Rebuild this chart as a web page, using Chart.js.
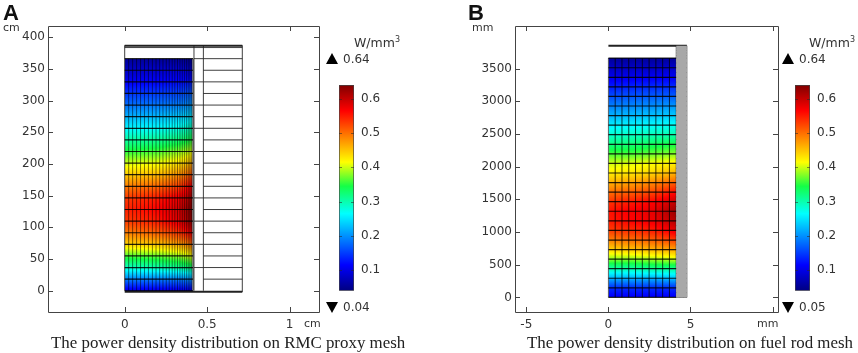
<!DOCTYPE html>
<html>
<head>
<meta charset="utf-8">
<script src="https://cdn.jsdelivr.net/npm/chart.js@4"></script>
<style>
  html, body { margin: 0; padding: 0; background: #fff; }
  #page { position: relative; width: 858px; height: 353px; overflow: hidden; font-family: "DejaVu Sans", sans-serif; color: #333; }
  #page canvas { position: absolute; filter: blur(0.55px); }
  .t { position: absolute; white-space: nowrap; line-height: 1; }
  .tag { font: bold 22px "Liberation Sans", sans-serif; color: #111; }
  .unit { font-size: 11px; }
  .num { font-size: 12px; }
  .wide { font-size: 12.5px; }
  .cap { font: 16.9px "Liberation Serif", serif; color: #222; }
  .up, .down { position: absolute; width: 0; height: 0; border-left: 6.5px solid transparent; border-right: 6.5px solid transparent; }
  .up { border-bottom: 11px solid #000; }
  .down { border-top: 11px solid #000; }
  sup { font-size: 8px; line-height: 0; }
</style>
</head>
<body>
<div id="page">
  <canvas id="mainA" width="430" height="353" style="left:0;top:0"></canvas>
  <canvas id="barA" width="70" height="235" style="left:320px;top:70px"></canvas>
  <canvas id="mainB" width="428" height="353" style="left:430px;top:0"></canvas>
  <canvas id="barB" width="70" height="235" style="left:776px;top:70px"></canvas>

  <div class="t tag" style="left:3px;top:0">A</div>
  <div class="t unit" style="left:3px;top:22px">cm</div>
  <div class="t unit" style="left:304px;top:318px">cm</div>
  <div class="t wide" style="left:354px;top:37px">W/mm<sup>3</sup></div>
  <div class="up" style="left:325.5px;top:53px"></div>
  <div class="t num" style="left:343px;top:53px">0.64</div>
  <div class="down" style="left:325.5px;top:302px"></div>
  <div class="t num" style="left:343px;top:301px">0.04</div>
  <div class="t cap" style="left:51px;top:333px">The power density distribution on RMC proxy mesh</div>

  <div class="t tag" style="left:468px;top:0">B</div>
  <div class="t unit" style="left:472px;top:22px">mm</div>
  <div class="t unit" style="left:757px;top:318px">mm</div>
  <div class="t wide" style="left:809px;top:37px">W/mm<sup>3</sup></div>
  <div class="up" style="left:781.5px;top:53px"></div>
  <div class="t num" style="left:799px;top:53px">0.64</div>
  <div class="down" style="left:781.5px;top:302px"></div>
  <div class="t num" style="left:799px;top:301px">0.05</div>
  <div class="t cap" style="left:527px;top:333px">The power density distribution on fuel rod mesh</div>
</div>

<script>
// colour scale
const jetValues = [0.04, 0.115, 0.265, 0.345, 0.415, 0.565, 0.64];
const jetColors = [[0, 0, 128], [0, 0, 255], [0, 255, 255], [20, 255, 70], [255, 255, 0], [255, 0, 0], [128, 0, 0]];
const colorbarTicks = [0.1, 0.2, 0.3, 0.4, 0.5, 0.6];

// panel A, RMC proxy mesh (cm)
const xTicksA = [0, 0.5, 1];
const yTicksA = [0, 50, 100, 150, 200, 250, 300, 350, 400];
const heatRadiiA = [0, 0.2, 0.33, 0.39, 0.414];
const heightsA = [0, 18.3, 36.6, 54.9, 73.2, 91.5, 109.8, 128.1, 146.4, 164.7, 183, 201.3, 219.6, 237.9, 256.2, 274.5, 292.8, 311.1, 329.4, 347.7, 366];
const powerA = [
  [0.10, 0.10, 0.10, 0.10, 0.10],
  [0.19, 0.19, 0.19, 0.20, 0.20],
  [0.29, 0.30, 0.31, 0.32, 0.33],
  [0.36, 0.37, 0.385, 0.40, 0.42],
  [0.44, 0.45, 0.47, 0.49, 0.51],
  [0.49, 0.51, 0.535, 0.56, 0.58],
  [0.53, 0.55, 0.58, 0.61, 0.63],
  [0.545, 0.565, 0.59, 0.62, 0.64],
  [0.53, 0.55, 0.575, 0.60, 0.625],
  [0.49, 0.505, 0.53, 0.56, 0.58],
  [0.445, 0.455, 0.48, 0.505, 0.525],
  [0.40, 0.41, 0.43, 0.45, 0.47],
  [0.35, 0.36, 0.38, 0.395, 0.41],
  [0.305, 0.31, 0.325, 0.34, 0.355],
  [0.26, 0.265, 0.275, 0.29, 0.30],
  [0.22, 0.225, 0.235, 0.245, 0.255],
  [0.18, 0.185, 0.19, 0.20, 0.21],
  [0.145, 0.15, 0.155, 0.165, 0.17],
  [0.11, 0.115, 0.12, 0.125, 0.13],
  [0.08, 0.085, 0.09, 0.09, 0.095],
  [0.055, 0.055, 0.055, 0.055, 0.055]
];
const meshColsA = [0.024, 0.048, 0.072, 0.096, 0.12, 0.144, 0.168, 0.19, 0.212, 0.232, 0.252, 0.27, 0.288, 0.304, 0.32, 0.335, 0.349, 0.362, 0.374, 0.385, 0.395, 0.404];
const gapRowsA = [36.6, 73.2, 109.8, 146.4, 183, 219.6, 256.2, 292.8, 329.4];
const outerRowsA = [18.3, 36.6, 54.9, 73.2, 91.5, 109.8, 128.1, 146.4, 164.7, 183, 201.3, 219.6, 237.9, 256.2, 274.5, 292.8, 311.1, 329.4, 347.7, 366];

// panel B, fuel rod mesh (mm)
const xTicksB = [-5, 0, 5, 10];
const yTicksB = [0, 500, 1000, 1500, 2000, 2500, 3000, 3500];
const heatRadiiB = [0, 1.4, 2.8, 4.13];
const heightsB = [0, 146, 293, 439, 586, 732, 878, 1025, 1171, 1318, 1464, 1610, 1757, 1903, 2050, 2196, 2342, 2489, 2635, 2782, 2928, 3074, 3221, 3367, 3513, 3660];
const powerB = [
  [0.11, 0.11, 0.11, 0.11],
  [0.14, 0.14, 0.14, 0.14],
  [0.22, 0.22, 0.22, 0.23],
  [0.30, 0.30, 0.31, 0.31],
  [0.38, 0.38, 0.39, 0.40],
  [0.44, 0.45, 0.46, 0.47],
  [0.49, 0.50, 0.51, 0.53],
  [0.53, 0.54, 0.55, 0.58],
  [0.55, 0.565, 0.575, 0.61],
  [0.555, 0.57, 0.58, 0.625],
  [0.535, 0.55, 0.565, 0.60],
  [0.50, 0.51, 0.525, 0.56],
  [0.46, 0.47, 0.485, 0.51],
  [0.425, 0.43, 0.44, 0.46],
  [0.40, 0.405, 0.415, 0.425],
  [0.36, 0.36, 0.37, 0.38],
  [0.32, 0.325, 0.335, 0.345],
  [0.285, 0.29, 0.295, 0.30],
  [0.255, 0.26, 0.265, 0.27],
  [0.22, 0.225, 0.23, 0.235],
  [0.19, 0.195, 0.20, 0.205],
  [0.16, 0.165, 0.17, 0.17],
  [0.13, 0.135, 0.14, 0.14],
  [0.105, 0.105, 0.11, 0.11],
  [0.08, 0.08, 0.08, 0.085],
  [0.055, 0.055, 0.055, 0.055]
];
const meshColsB = [0.413, 0.826, 1.239, 1.652, 2.065, 2.478, 2.891, 3.304, 3.717];
const cladColsB = [4.13, 4.35, 4.57, 4.78];
const cladRowsB = [73, 146, 220, 293, 366, 439, 512, 586, 659, 732, 805, 878, 951, 1025, 1098, 1171, 1244, 1318, 1391, 1464, 1537, 1610, 1683, 1757, 1830, 1903, 1976, 2050, 2123, 2196, 2269, 2342, 2415, 2489, 2562, 2635, 2708, 2782, 2855, 2928, 3001, 3074, 3147, 3221, 3294, 3367, 3440, 3513, 3586, 3660, 3700, 3740, 3780, 3815];

function jet(v) {
  const i = Math.max(0, jetValues.findIndex((s, k) => v <= jetValues[k + 1]));
  const t = Math.min(1, Math.max(0, (v - jetValues[i]) / (jetValues[i + 1] - jetValues[i])));
  const c = jetColors[i].map((a, k) => Math.round(a + (jetColors[i + 1][k] - a) * t));
  return `rgb(${c[0]},${c[1]},${c[2]})`;
}

function bracket(list, v) {
  let i = 0;
  while (i < list.length - 2 && v > list[i + 1]) i++;
  return [i, Math.min(1, Math.max(0, (v - list[i]) / (list[i + 1] - list[i])))];
}

// paints the shaded field pixel by pixel under the mesh lines
const heatPlugin = {
  id: 'heat',
  beforeDatasetsDraw(chart) {
    const heat = chart.options.plugins.heat;
    if (!heat) return;
    const { x, y } = chart.scales;
    const ctx = chart.ctx;
    const x0 = Math.round(x.getPixelForValue(0)), x1 = Math.round(x.getPixelForValue(heat.radii[heat.radii.length - 1]));
    const y0 = Math.round(y.getPixelForValue(heat.heights[heat.heights.length - 1])), y1 = Math.round(y.getPixelForValue(0));
    for (let py = y0; py < y1; py++) {
      const [r, tr] = bracket(heat.heights, y.getValueForPixel(py + 0.5));
      for (let px = x0; px < x1; px++) {
        const [c, tc] = bracket(heat.radii, x.getValueForPixel(px + 0.5));
        const low = heat.values[r][c] * (1 - tc) + heat.values[r][c + 1] * tc;
        const high = heat.values[r + 1][c] * (1 - tc) + heat.values[r + 1][c + 1] * tc;
        ctx.fillStyle = jet(low * (1 - tr) + high * tr);
        ctx.fillRect(px, py, 1, 1);
      }
    }
  }
};

// COMSOL style frame: ticks point inward on all four sides
const framePlugin = {
  id: 'frame',
  afterDatasetsDraw(chart) {
    const frame = chart.options.plugins.frame;
    if (!frame) return;
    const { left, right, top, bottom } = chart.chartArea;
    const ctx = chart.ctx;
    ctx.save();
    ctx.strokeStyle = frame.color;
    ctx.lineWidth = 1;
    ctx.beginPath();
    chart.scales.y.ticks.forEach(t => {
      const p = Math.round(chart.scales.y.getPixelForValue(t.value)) + 0.5;
      ctx.moveTo(left, p); ctx.lineTo(left + frame.size, p);
      ctx.moveTo(right, p); ctx.lineTo(right - frame.size, p);
    });
    if (frame.box) {
      chart.scales.x.ticks.forEach(t => {
        const p = Math.round(chart.scales.x.getPixelForValue(t.value)) + 0.5;
        ctx.moveTo(p, top); ctx.lineTo(p, top + frame.size);
        ctx.moveTo(p, bottom); ctx.lineTo(p, bottom - frame.size);
      });
      ctx.rect(Math.round(left) + 0.5, Math.round(top) + 0.5, Math.round(right - left), Math.round(bottom - top));
    }
    ctx.stroke();
    ctx.restore();
  }
};

// a list of [x1, y1, x2, y2] becomes one broken line
function segments(list) {
  const pts = [];
  list.forEach(s => {
    pts.push({ x: s[0], y: s[1] }, { x: s[2], y: s[3] }, { x: NaN, y: NaN });
  });
  return pts;
}

function lines(list, color, width) {
  return { data: segments(list), showLine: true, pointRadius: 0, borderColor: color, borderWidth: width, spanGaps: false, borderCapStyle: 'butt' };
}

function makeMain(id, opt) {
  return new Chart(document.getElementById(id), {
    type: 'scatter',
    data: { datasets: opt.datasets },
    plugins: [heatPlugin, framePlugin],
    options: {
      responsive: false,
      animation: false,
      events: [],
      layout: { padding: { left: opt.left, right: opt.right, top: 26, bottom: 0 } },
      plugins: {
        legend: { display: false },
        tooltip: { enabled: false },
        heat: opt.heat,
        frame: { color: '#444', size: 5, box: true }
      },
      scales: {
        x: {
          type: 'linear', min: opt.xMin, max: opt.xMax,
          grid: { display: false, drawTicks: false }, border: { display: false },
          afterFit: s => { s.height = 41; },
          afterBuildTicks: s => { s.ticks = opt.xTicks.map(v => ({ value: v })); },
          ticks: { autoSkip: false, maxRotation: 0, padding: 6, color: '#333', font: { family: 'DejaVu Sans', size: 12 }, callback: opt.xLabel }
        },
        y: {
          type: 'linear', min: opt.yMin, max: opt.yMax,
          grid: { display: false, drawTicks: false }, border: { display: false },
          afterFit: s => { s.width = 48; },
          afterBuildTicks: s => { s.ticks = opt.yTicks.map(v => ({ value: v })); },
          ticks: { autoSkip: false, padding: 3, color: '#333', font: { family: 'DejaVu Sans', size: 12 }, callback: v => String(v) }
        }
      }
    }
  });
}

function makeBar(id) {
  return new Chart(document.getElementById(id), {
    type: 'bar',
    data: {
      labels: ['W/mm3'],
      datasets: [{
        data: [[jetValues[0], jetValues[jetValues.length - 1]]],
        barPercentage: 1,
        categoryPercentage: 1,
        borderWidth: 1,
        borderColor: '#444',
        borderSkipped: false,
        backgroundColor(c) {
          if (!c.chart.chartArea) return '#000';
          const y = c.chart.scales.y;
          const lo = jetValues[0], hi = jetValues[jetValues.length - 1];
          const g = c.chart.ctx.createLinearGradient(0, y.getPixelForValue(lo), 0, y.getPixelForValue(hi));
          jetValues.forEach((v, i) => g.addColorStop((v - lo) / (hi - lo), `rgb(${jetColors[i].join(',')})`));
          return g;
        }
      }]
    },
    plugins: [framePlugin],
    options: {
      responsive: false,
      animation: false,
      events: [],
      layout: { padding: { left: 19, right: 0, top: 15, bottom: 11.5 } },
      plugins: {
        legend: { display: false },
        tooltip: { enabled: false },
        frame: { color: 'rgba(40,40,40,0.55)', size: 3, box: false }
      },
      scales: {
        x: { display: false },
        y: {
          position: 'right', min: jetValues[0], max: jetValues[jetValues.length - 1],
          grid: { display: false, drawTicks: false }, border: { display: false },
          afterFit: s => { s.width = 36; },
          afterBuildTicks: s => { s.ticks = colorbarTicks.map(v => ({ value: v })); },
          ticks: { padding: 7, color: '#333', font: { family: 'DejaVu Sans', size: 12 }, callback: v => v.toFixed(1) }
        }
      }
    }
  });
}

const thin = 'rgba(0,0,0,0.5)';
const rowLine = 'rgba(0,0,0,0.85)';
const wall = 'rgba(30,30,30,0.85)';

makeMain('mainA', {
  left: 0, right: 111,
  xMin: -0.465, xMax: 1.178, xTicks: xTicksA,
  yMin: -33.5, yMax: 417.5, yTicks: yTicksA,
  xLabel: v => String(v),
  heat: { radii: heatRadiiA, heights: heightsA, values: powerA },
  datasets: [
    lines(meshColsA.map(r => [r, 0, r, 366]), thin, 1),
    lines(heightsA.map(h => [0, h, 0.414, h]), rowLine, 1.2),
    lines(gapRowsA.map(h => [0.42, h, 0.477, h]), wall, 1),
    lines(outerRowsA.map(h => [0.477, h, 0.713, h]), wall, 1),
    lines([[0, 0, 0, 387], [0.42, 0, 0.42, 387], [0.477, 0, 0.477, 387], [0.713, -2, 0.713, 387], [0, 383.5, 0.713, 383.5], [0.42, 366, 0.477, 366]], wall, 1),
    lines([[0.414, 0, 0.414, 366]], 'rgba(120,120,120,0.9)', 2),
    lines([[0, 386.5, 0.713, 386.5], [0, -1.5, 0.713, -1.5]], '#222', 2)
  ]
});

makeMain('mainB', {
  left: 37, right: 80,
  xMin: -5.69, xMax: 10.33, xTicks: xTicksB,
  yMin: -223, yMax: 4152, yTicks: yTicksB,
  xLabel: v => (v === 10 ? '' : String(v)),
  heat: { radii: heatRadiiB, heights: heightsB, values: powerB },
  datasets: [
    lines([[4.455, 0, 4.455, 3850]], '#a8a8a8', 10.5),
    lines(meshColsB.map(r => [r, 0, r, 3660]), 'rgba(0,0,0,0.75)', 1),
    lines(heightsB.map(h => [0, h, 4.13, h]), rowLine, 1.2),
    lines(cladColsB.map(r => [r, 0, r, 3850]), 'rgba(40,40,40,0.7)', 1),
    lines(cladRowsB.map(h => [4.13, h, 4.78, h]), 'rgba(40,40,40,0.85)', 1),
    lines([[0, 0, 0, 3660], [4.13, 0, 4.78, 0]], '#666', 1),
    lines([[0, 3850, 4.78, 3850]], '#222', 2)
  ]
});

makeBar('barA');
makeBar('barB');
</script>
</body>
</html>
